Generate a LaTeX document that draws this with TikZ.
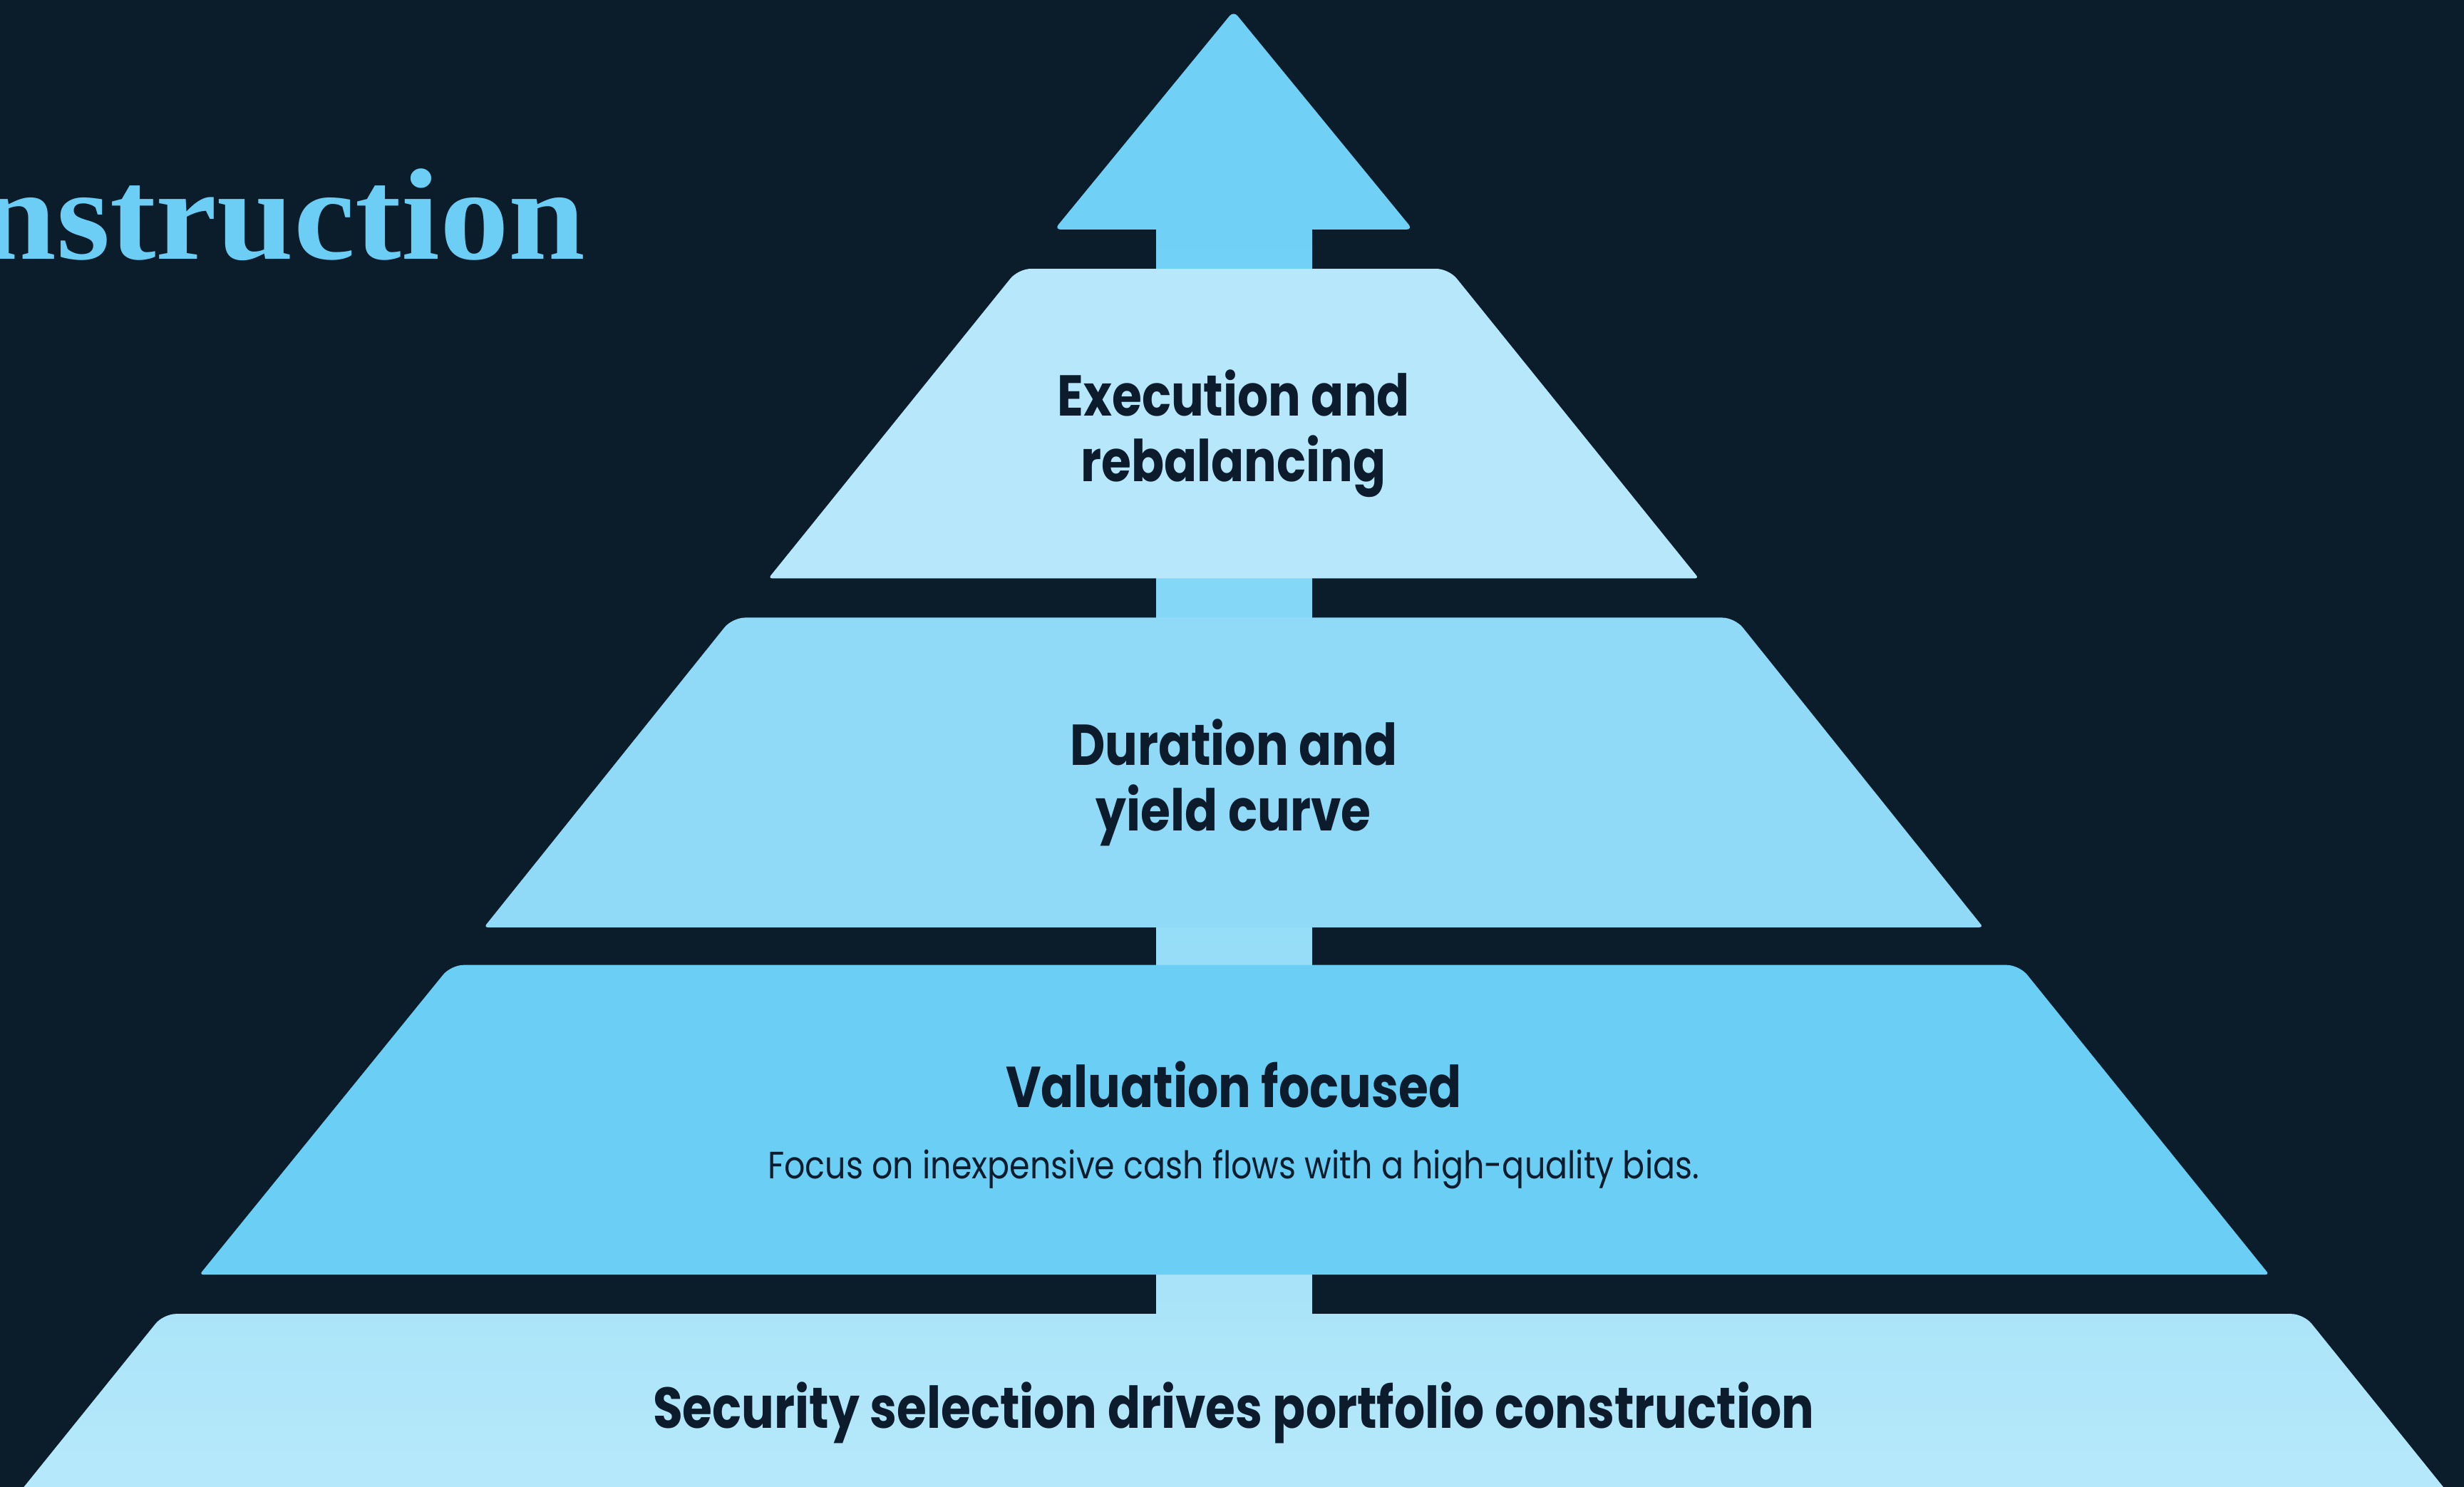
\documentclass[tikz,border=0pt]{standalone}
\usepackage{fontspec}
\setmainfont{Poppins}
\newfontfamily\headfont{Poppins}[FakeStretch=0.84]
\newfontfamily\bodyfont{Poppins}[FakeStretch=0.86]
\newfontfamily\titlefont{Liberation Serif}[FakeStretch=1.06]
\definecolor{bgc}{HTML}{0B1C2B}
\definecolor{ink}{HTML}{0C1C2C}
\definecolor{arrowc}{HTML}{70D0F6}
\definecolor{tierA}{HTML}{B7E7FA}
\definecolor{tierB}{HTML}{90D9F7}
\definecolor{tierC}{HTML}{6BCEF5}
\definecolor{tierDtop}{HTML}{ABE4F9}
\definecolor{tierDbot}{HTML}{B8E9FB}
\definecolor{titlec}{HTML}{6CCEF5}
\tikzset{
  head/.style={text=ink, align=center, inner sep=0pt, font=\headfont\bfseries\fontsize{23}{26.3}\selectfont},
  sub/.style={text=ink, align=center, inner sep=0pt, font=\bodyfont\fontsize{15.2}{18}\selectfont},
  titletext/.style={text=titlec, inner sep=0pt, font=\titlefont\bfseries\fontsize{52}{60}\selectfont}
}
\begin{document}
\begin{tikzpicture}[x=0.022047cm,y=-0.022047cm]
\useasboundingbox (0,0) rectangle (1568,946);
\fill[bgc] (0,0) rectangle (1568,946);
\begin{scope}
\clip (0,0) rectangle (1568,946);
% shaft
\shade[top color=arrowc, bottom color=tierDtop] (736,140) rectangle (835,845);
% arrow head
\fill[arrowc, rounded corners=2.5pt] (785,7) -- (899,146) -- (671,146) -- cycle;
% tiers
\fill[tierA] (489,368) [rounded corners=1.5pt] -- (1081,368) [rounded corners=5pt] -- (922,171) -- (648,171) [rounded corners=1.5pt] -- cycle;
\fill[tierB] (308,590) [rounded corners=1.5pt] -- (1262,590) [rounded corners=5pt] -- (1104,393) -- (466,393) [rounded corners=1.5pt] -- cycle;
\fill[tierC] (127,811) [rounded corners=1.5pt] -- (1444,811) [rounded corners=5pt] -- (1285,614) -- (287,614) [rounded corners=1.5pt] -- cycle;
\shade[top color=tierDtop, bottom color=tierDbot] (4,960) -- (1566,960) [rounded corners=5pt] -- (1466,836) -- (104,836) [rounded corners=0pt] -- cycle;
% texts
\node[head] (exec) at (785,276) {Execution and\\rebalancing};
\node[head] (dur) at (785,498) {Duration and\\yield curve};
\node[head] (val) at (785,690) {Valuation focused};
\node[sub] (valsub) at (785,744) {Focus on inexpensive cash flows with a high-quality bias.};
\node[head] (sec) at (785,899) {Security selection drives portfolio construction};
\node[titletext, anchor=base east] (title) at (373,165) {nstruction};
\end{scope}
\end{tikzpicture}
\end{document}
